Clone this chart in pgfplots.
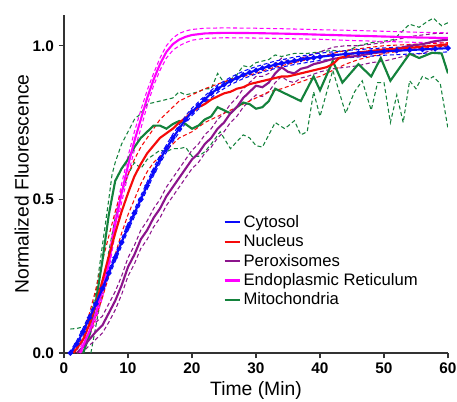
\documentclass[border=0pt]{standalone}
\usepackage{fontspec}
\setmainfont{Liberation Sans}
\usepackage{pgfplots}
\pgfplotsset{compat=1.18}

\definecolor{cyto}{RGB}{10,10,250}
\definecolor{nuc}{RGB}{245,10,10}
\definecolor{perox}{RGB}{140,20,140}
\definecolor{er}{RGB}{255,0,255}
\definecolor{mito}{RGB}{20,130,60}

\begin{document}
\begin{tikzpicture}
\begin{axis}[
    scale only axis,
    width=288pt, height=253.5pt,
    xmin=0, xmax=60, ymin=0, ymax=1.1,
    axis lines=left,
    axis line style={-, line width=1.1pt, black!80},
    xtick={0,10,...,60}, ytick={0,0.5,1},
    tick align=outside, major tick length=4pt,
    tick style={line width=1.1pt, black!80},
    /pgf/number format/assume math mode=true,
    ticklabel style={font=\bfseries\fontsize{11.5}{13}\selectfont},
    yticklabel style={/pgf/number format/.cd, fixed, fixed zerofill, precision=1},
    xlabel={Time (Min)},
    ylabel={Normalized Fluorescence},
    label style={font=\fontsize{14.5}{17}\selectfont},
    xlabel style={at={(axis description cs:0.5,-0.1272)}, anchor=base},
    ylabel style={at={(axis description cs:-0.0924,0.5)}, anchor=base},
    legend style={at={(axis cs:24.9,0.458)}, anchor=north west, draw=none, fill=none,
        font=\fontsize{12.5}{15}\selectfont, inner sep=0pt},
    legend cell align=left,
    legend image code/.code={\draw[#1, line width=1.6pt] (0cm,0cm) -- (0.4cm,0cm);},
    dsh/.style={line width=0.8pt, dash pattern=on 3pt off 2pt, forget plot},
    sol/.style={line width=1.6pt, forget plot},
]
\coordinate (sw) at (rel axis cs:0,0);
\coordinate (ne) at (rel axis cs:1,1);

% legend
\addlegendimage{cyto}\addlegendentry{Cytosol}
\addlegendimage{nuc}\addlegendentry{Nucleus}
\addlegendimage{perox}\addlegendentry{Peroxisomes}
\addlegendimage{er}\addlegendentry{Endoplasmic Reticulum}
\addlegendimage{mito}\addlegendentry{Mitochondria}

% Mitochondria
\addplot[mito, dsh] coordinates {
 (1,0.078) (2,0.08) (3,0.085) (4,0.1) (5,0.2) (6,0.35) (7,0.5) (7.5,0.58) (8,0.62) (9,0.68)
 (10,0.72) (11,0.76) (12,0.78) (13,0.81) (14,0.815) (15,0.82) (16,0.825) (17,0.83) (18,0.85)
 (19,0.84) (20,0.845) (21,0.85) (22,0.86) (23,0.86) (24,0.91) (25,0.88) (26,0.89) (27,0.905)
 (28,0.935) (29,0.93) (30,0.945) (31,0.95) (32,0.955) (33,0.97) (34,0.965) (35,0.97) (36,0.975)
 (38,0.975) (40,0.98) (42,0.985) (44,0.98) (46,1.0) (48,1.01) (50,1.015) (51.5,1.02) (52.5,1.04)
 (54,1.07) (55.5,1.06) (56.5,1.075) (57.7,1.09) (59,1.065) (60,1.075)
};
\addplot[mito, dsh] coordinates {
 (4.2,0) (5,0.09) (6,0.2) (7,0.33) (8,0.44) (9,0.52) (10,0.58) (11,0.62) (12,0.6) (13,0.63)
 (14,0.645) (15,0.66) (16,0.655) (17,0.665) (18,0.665) (19,0.67) (20,0.64) (21,0.64) (22,0.655)
 (23,0.68) (24.4,0.72) (26,0.665) (28,0.71) (29,0.7) (30,0.675) (31,0.67) (33,0.75) (34.5,0.73)
 (36,0.756) (37,0.71) (38,0.72) (39,0.85) (40,0.77) (42,0.92) (44,0.78) (45.4,0.85) (46.6,0.886)
 (48,0.79) (49,0.88) (50,0.88) (51,0.75) (52,0.84) (53,0.75) (54,0.886) (55,0.86) (56,0.9)
 (57,0.89) (57.7,0.9) (58.8,0.876) (60,0.73)
};
% Peroxisomes
\addplot[perox, dsh] coordinates {
 (2,0.01) (3,0.04) (4,0.07) (5,0.1) (6,0.12) (7,0.16) (8,0.2) (9,0.25) (10,0.31) (11,0.35)
 (12,0.4) (13,0.43) (14,0.47) (15,0.5) (16,0.54) (17,0.57) (18,0.6) (19,0.63) (20,0.66)
 (21,0.68) (22,0.71) (23,0.73) (24,0.76) (25,0.78) (26,0.81) (27,0.83) (28,0.86) (29,0.88)
 (30,0.9) (31,0.9) (32,0.91) (33,0.94) (34,0.96) (35,0.95) (36,0.945) (37,0.96) (38,0.965)
 (40,0.98) (42,0.995) (44,1.0) (46,1.0) (48,1.005) (50,1.01) (52,1.02) (54,1.03) (56,1.035)
 (58,1.04) (60,1.04)
};
\addplot[perox, dsh] coordinates {
 (2.5,0) (3,0.005) (4,0.025) (5,0.045) (6,0.065) (7,0.1) (8,0.14) (9,0.19) (10,0.25) (11,0.29)
 (12,0.34) (13,0.37) (14,0.41) (15,0.44) (16,0.48) (17,0.51) (18,0.54) (19,0.57) (20,0.6)
 (21,0.62) (22,0.65) (23,0.67) (24,0.7) (25,0.72) (26,0.75) (27,0.77) (28,0.8) (29,0.82)
 (30,0.84) (31,0.835) (32,0.85) (33,0.88) (34,0.9) (35,0.885) (36,0.88) (37,0.895) (38,0.9)
 (40,0.915) (42,0.925) (44,0.93) (46,0.935) (48,0.945) (50,0.95) (52,0.96) (54,0.97) (56,0.975)
 (58,0.99) (60,1.0)
};
% Endoplasmic Reticulum
\addplot[er, dsh] coordinates {
 (2.2,0) (3,0.04) (4,0.09) (5,0.15) (6,0.23) (7,0.31) (8,0.45) (9,0.55) (10,0.64) (11,0.72)
 (12,0.79) (13,0.855) (14,0.91) (15,0.96) (16,1.0) (17,1.025) (18,1.04) (19,1.048) (20,1.053)
 (22,1.057) (25,1.058) (30,1.057) (35,1.055) (40,1.052) (45,1.05) (50,1.047) (55,1.044) (60,1.042)
};
\addplot[er, dsh] coordinates {
 (2.8,0) (3,0.01) (4,0.055) (5,0.11) (6,0.18) (7,0.27) (8,0.39) (9,0.49) (10,0.58) (11,0.66)
 (12,0.73) (13,0.805) (14,0.87) (15,0.92) (16,0.96) (17,0.985) (18,1.0) (19,1.01) (20,1.018)
 (22,1.024) (25,1.026) (30,1.025) (35,1.023) (40,1.021) (45,1.017) (50,1.014) (55,1.011) (60,1.009)
};
% Nucleus
\addplot[nuc, dsh] coordinates {
 (1.5,0) (2,0.03) (3,0.07) (4,0.13) (5,0.21) (6,0.3) (7,0.38) (8,0.46) (9,0.53) (10,0.58)
 (11,0.63) (12,0.67) (13,0.7) (14,0.73) (15,0.76) (16,0.78) (17,0.8) (18,0.82) (19,0.83)
 (20,0.84) (22,0.86) (24,0.875) (26,0.89) (28,0.9) (30,0.91) (32,0.925) (34,0.935) (36,0.945)
 (38,0.955) (40,0.965) (42,0.975) (44,0.985) (46,0.99) (48,0.995) (50,1.0) (55,1.005) (60,1.01)
};
\addplot[nuc, dsh] coordinates {
 (2,0) (3,0.02) (4,0.06) (5,0.12) (6,0.18) (7,0.25) (8,0.32) (9,0.39) (10,0.45) (11,0.5)
 (12,0.55) (13,0.59) (14,0.62) (15,0.64) (16,0.66) (17,0.68) (18,0.7) (19,0.71) (20,0.72)
 (22,0.75) (24,0.77) (26,0.79) (28,0.81) (30,0.83) (32,0.85) (34,0.86) (36,0.875) (38,0.89)
 (40,0.9) (42,0.92) (44,0.94) (46,0.955) (48,0.965) (50,0.975) (55,0.99) (60,1.0)
};
% Cytosol bounds
\addplot[cyto, dsh] coordinates {
 (0.8,0) (2,0.04) (3,0.082) (4,0.127) (5,0.172) (6,0.222) (7,0.272) (8,0.322) (9,0.372) (10,0.422)
 (11,0.467) (12,0.512) (13,0.557) (14,0.602) (15,0.642) (16,0.677) (17,0.712) (18,0.742) (19,0.772)
 (20,0.797) (22,0.837) (24,0.872) (26,0.897) (28,0.917) (30,0.932) (33,0.95) (36,0.963) (40,0.976)
 (45,0.986) (50,0.993) (55,0.998) (60,1.003)
};
\addplot[cyto, dsh] coordinates {
 (1.2,0) (2,0.02) (3,0.058) (4,0.103) (5,0.148) (6,0.198) (7,0.248) (8,0.298) (9,0.348) (10,0.398)
 (11,0.443) (12,0.488) (13,0.533) (14,0.578) (15,0.618) (16,0.653) (17,0.688) (18,0.718) (19,0.748)
 (20,0.773) (22,0.813) (24,0.848) (26,0.873) (28,0.893) (30,0.908) (33,0.926) (36,0.939) (40,0.952)
 (45,0.962) (50,0.969) (55,0.974) (60,0.98)
};

% solid lines
\addplot[mito, sol] coordinates {
 (3,0) (4,0.06) (5,0.17) (6,0.3) (7,0.45) (8,0.56) (9,0.6) (10,0.63) (11,0.67) (12,0.7)
 (13,0.72) (14,0.74) (15,0.74) (16,0.73) (17,0.745) (18,0.755) (19,0.745) (20,0.73) (21,0.74)
 (22,0.76) (23,0.77) (24,0.8) (25,0.79) (26,0.78) (27,0.8) (28,0.815) (29,0.81) (30,0.795)
 (31,0.8) (32,0.82) (33,0.86) (34,0.85) (35,0.84) (36,0.83) (37,0.82) (38,0.86) (39,0.9)
 (40,0.855) (42,0.95) (43.5,0.88) (46,0.94) (48,0.9) (49.5,0.96) (51,0.886) (52.5,0.93)
 (54,0.974) (55.5,0.96) (57.5,0.977) (59,0.975) (60,0.91)
};
\addplot[perox, sol] coordinates {
 (2,0) (3,0.02) (4,0.045) (5,0.07) (6,0.09) (7,0.13) (8,0.17) (9,0.22) (10,0.28) (11,0.32)
 (12,0.37) (13,0.4) (14,0.44) (15,0.47) (16,0.51) (17,0.54) (18,0.57) (19,0.6) (20,0.63)
 (21,0.65) (22,0.68) (23,0.7) (24,0.73) (25,0.75) (26,0.78) (27,0.8) (28,0.83) (29,0.85)
 (30,0.87) (31,0.865) (32,0.88) (33,0.91) (34,0.93) (35,0.915) (36,0.91) (37,0.925) (38,0.93)
 (39,0.94) (40,0.945) (42,0.957) (44,0.963) (46,0.967) (48,0.975) (50,0.98) (52,0.99) (54,1.0)
 (56,1.005) (58,1.015) (60,1.02)
};
\addplot[er, sol] coordinates {
 (2.5,0) (3,0.025) (4,0.072) (5,0.13) (6,0.205) (7,0.29) (8,0.42) (9,0.52) (10,0.61) (11,0.69)
 (12,0.76) (13,0.83) (14,0.89) (15,0.94) (16,0.98) (17,1.005) (18,1.02) (19,1.029) (20,1.035)
 (22,1.04) (25,1.042) (30,1.041) (35,1.039) (40,1.036) (45,1.033) (50,1.03) (55,1.027) (60,1.025)
};
\addplot[nuc, sol] coordinates {
 (1.5,0) (2,0.015) (3,0.045) (4,0.095) (5,0.16) (6,0.235) (7,0.315) (8,0.39) (9,0.46) (10,0.52)
 (11,0.575) (12,0.615) (13,0.65) (14,0.675) (15,0.7) (16,0.715) (17,0.73) (18,0.75) (19,0.765)
 (20,0.785) (21,0.8) (22,0.81) (23,0.825) (24,0.835) (25,0.845) (26,0.85) (27,0.86) (28,0.865)
 (29,0.875) (30,0.88) (31,0.885) (32,0.89) (33,0.895) (34,0.9) (35,0.9) (36,0.905) (37,0.91)
 (38,0.915) (39,0.92) (40,0.925) (41,0.93) (42,0.94) (43,0.96) (44,0.965) (45,0.975) (46,0.978)
 (48,0.983) (50,0.988) (52,0.99) (54,0.993) (56,0.997) (58,1.0) (60,1.005)
};
\addplot[cyto, sol, mark=*, mark size=1.1pt] coordinates {
 (1,0) (2,0.03) (3,0.07) (4,0.115) (5,0.16) (6,0.21) (7,0.26) (8,0.31) (9,0.36) (10,0.41)
 (11,0.455) (12,0.5) (13,0.545) (14,0.59) (15,0.63) (16,0.665) (17,0.7) (18,0.73) (19,0.76)
 (20,0.785) (21,0.805) (22,0.825) (23,0.845) (24,0.86) (25,0.873) (26,0.885) (27,0.895)
 (28,0.905) (29,0.913) (30,0.92) (31,0.927) (32,0.933) (33,0.938) (34,0.943) (35,0.947)
 (36,0.951) (37,0.955) (38,0.958) (39,0.961) (40,0.964) (42,0.969) (44,0.973) (46,0.976)
 (48,0.979) (50,0.982) (52,0.984) (54,0.986) (56,0.988) (58,0.99) (60,0.992)
};
\end{axis}
\pgfresetboundingbox
\path ([shift={(-48pt,-36pt)}]sw) rectangle ([shift={(6.75pt,11.25pt)}]ne);
\end{tikzpicture}
\end{document}
